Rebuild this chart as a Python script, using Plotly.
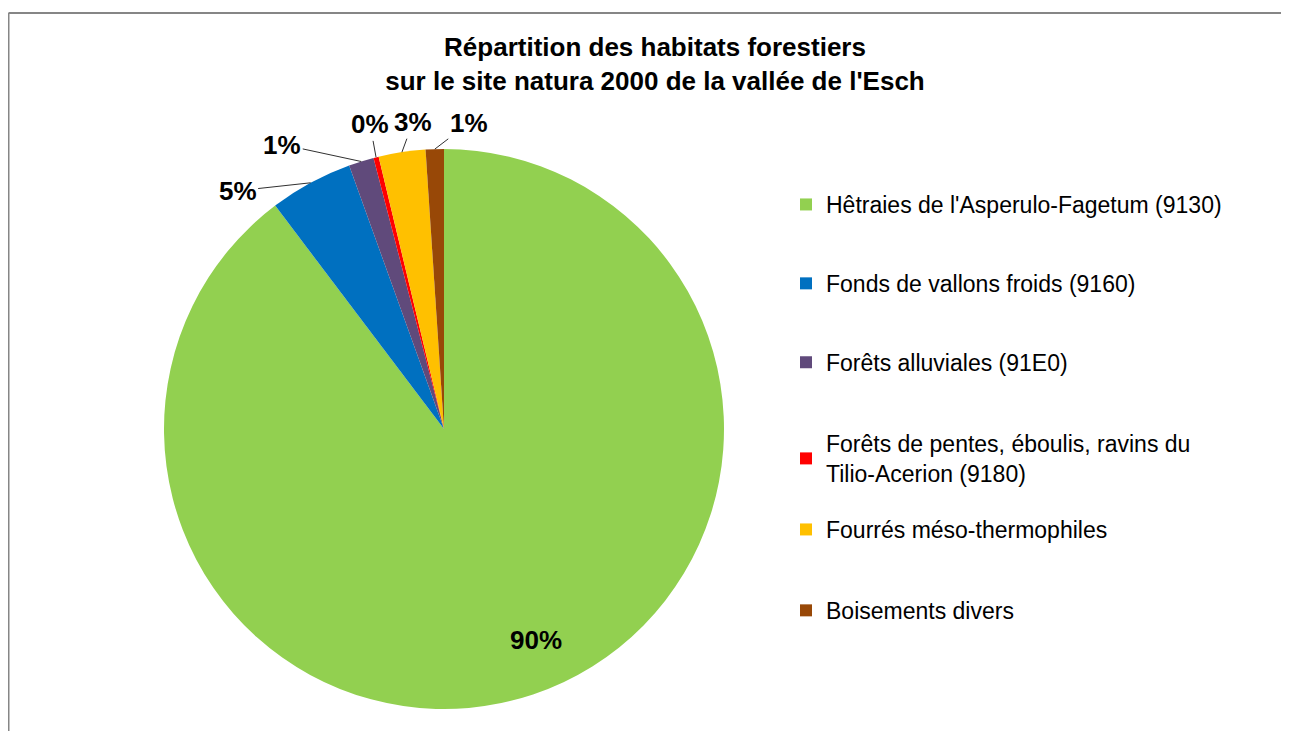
import numpy as np
import plotly.graph_objects as go

# Habitat categories, in the order the slices run clockwise from 12 o'clock
habitats = [
    "Hêtraies de l'Asperulo-Fagetum (9130)",
    "Fonds de vallons froids (9160)",
    "Forêts alluviales (91E0)",
    "Forêts de pentes, éboulis, ravins du<br>Tilio-Acerion (9180)",
    "Fourrés méso-thermophiles",
    "Boisements divers",
]
# share of the forest area (%)
shares = [89.7, 4.8, 1.45, 0.3, 2.7, 1.05]
colors = ["#92D050", "#0070C0", "#604A7B", "#FF0000", "#FFC000", "#984807"]

W, H = 1289, 731
# pie geometry in pixels (page has an 8px body margin)
cx, cy, r = 436, 421, 280
# label offsets (px) from slice edge, as excel placed them
label_off = [None, (-73, 8), (-79, -17), (-6, -33), (11, -30), (34, -26)]
lab_font = dict(size=26, color="black", family="Liberation Sans")

fig = go.Figure()

fig.add_trace(go.Pie(
    labels=habitats, values=shares, sort=False, direction="clockwise", rotation=0,
    marker=dict(colors=colors, line=dict(width=0)),
    textinfo="none", hoverinfo="label+percent", showlegend=False,
    domain=dict(x=[(cx - r) / W, (cx + r) / W], y=[1 - (cy + r) / H, 1 - (cy - r) / H]),
))

# dummy traces to get the spaced-out legend; split over three legends
# so the two-line entry sits where excel put it
which_leg = ["legend", "legend", "legend", "legend3", "legend2", "legend2"]
for name, c, lg in zip(habitats, colors, which_leg):
    fig.add_trace(go.Scatter(x=[None], y=[None], mode="markers", name=name, legendgroup=name,
                             legend=lg, marker=dict(symbol="square", size=12, color=c)))

# percentage labels computed from the values
tot = sum(shares)
cum = np.cumsum([0] + shares)
for i, v in enumerate(shares):
    mid = (cum[i] + v / 2) / tot * 2 * np.pi
    txt = "<b>%d%%</b>" % round(v / tot * 100)
    if label_off[i] is None:
        k = 0.87
        px, py = cx + k * r * np.sin(mid), cy - k * r * np.cos(mid)
        fig.add_annotation(x=px / W, y=1 - py / H, xref="paper", yref="paper", text=txt,
                           showarrow=False, font=lab_font, xshift=15, yshift=3)
    else:
        px, py = cx + r * np.sin(mid), cy - r * np.cos(mid)
        ax, ay = label_off[i]
        fig.add_annotation(x=px / W, y=1 - py / H, xref="paper", yref="paper", text=txt,
                           showarrow=True, arrowhead=0, arrowwidth=1, arrowcolor="#303030",
                           ax=ax, ay=ay, standoff=0, font=lab_font)

# chart area border (top and left visible)
fig.add_shape(type="line", xref="paper", yref="paper", x0=0.5 / W, x1=1, y0=1 - 5 / H, y1=1 - 5 / H,
              line=dict(color="#868686", width=2))
fig.add_shape(type="line", xref="paper", yref="paper", x0=0.5 / W, x1=0.5 / W, y0=0, y1=1 - 5 / H,
              line=dict(color="#868686", width=2))

leg_font = dict(size=23, color="black", family="Liberation Sans")
leg_common = dict(x=778 / W, xanchor="left", yanchor="top", font=leg_font,
                  itemwidth=30, bgcolor="rgba(0,0,0,0)")
fig.update_layout(
    width=W, height=H,
    margin=dict(l=0, r=0, t=0, b=0),
    paper_bgcolor="white", plot_bgcolor="white",
    font=dict(family="Liberation Sans", color="black"),
    title=dict(text="<b>Répartition des habitats forestiers<br>sur le site natura 2000 de la vallée de l'Esch</b>",
               x=647 / W, xanchor="center", y=1 - 48 / H, yanchor="top",
               font=dict(size=26, color="black", family="Liberation Sans")),
    xaxis=dict(visible=False), yaxis=dict(visible=False),
    legend=dict(y=1 - 175 / H, tracegroupgap=46, **leg_common),
    legend3=dict(y=1 - 414 / H, tracegroupgap=46, **leg_common),
    legend2=dict(y=1 - 500 / H, tracegroupgap=48, **leg_common),
)

fig.write_html("out.html")
